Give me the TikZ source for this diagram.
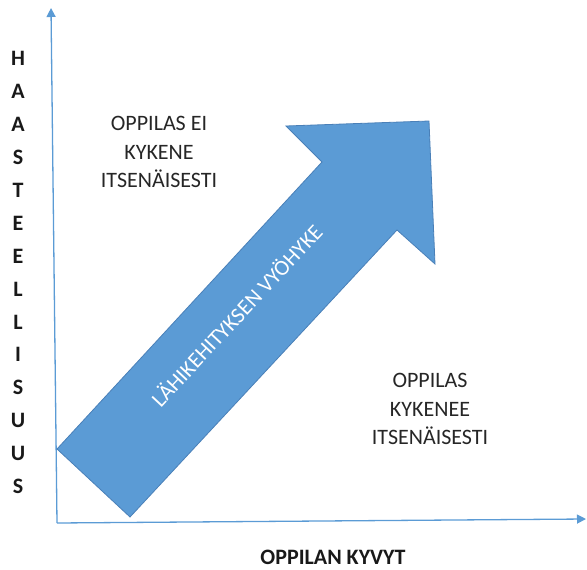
\documentclass[tikz,border=0pt]{standalone}
\usepackage{fontspec}
\setmainfont{Carlito}
\usetikzlibrary{arrows.meta}
\definecolor{cZone}{HTML}{5B9BD5}
\definecolor{cZoneEdge}{HTML}{4A80B8}

\begin{document}
\begin{tikzpicture}[
  x=1pt, y=-1pt,
  font=\fontsize{22}{28.5}\selectfont,
  lbl/.style  = {align=center, text=black!85, inner sep=0pt},
  axl/.style  = {font=\fontsize{22}{28.5}\selectfont\bfseries, text=black!90, inner sep=0pt},
  ax/.style   = {draw=cZone, line width=1.3pt, -{Triangle[width=9pt,length=9pt]}},
  zone/.style = {fill=cZone, draw=cZoneEdge, line width=0.8pt, line join=miter},
]
\useasboundingbox (0,0) rectangle (587,570);
% axes
\coordinate (o)    at (57,523);
\coordinate (ytop) at (51,8);
\coordinate (xend) at (586,519);
\draw[ax] (o) -- (ytop);
\draw[ax] (o) -- (xend);
% the zone arrow, corners going round from the tail
\coordinate (tl) at (57,449);
\coordinate (tb) at (130,517);
\coordinate (nl) at (397,230);
\coordinate (bl) at (435,264);
\coordinate (tip) at (429,121);
\coordinate (bu) at (286,126);
\coordinate (nu) at (322,162);
\filldraw[zone] (tl) -- (tb) -- (nl) -- (bl) -- (tip) -- (bu) -- (nu) -- cycle;
\node[lbl, text=white, rotate=47] (zone) at (236,315) {LÄHIKEHITYKSEN VYÖHYKE};
% labels
\node[lbl] (cannot) at (159,152) {OPPILAS EI\\KYKENE\\ITSENÄISESTI};
\node[lbl] (can)    at (430,409) {OPPILAS\\KYKENEE\\ITSENÄISESTI};
\node[axl] (xlab)   at (333,557) {OPPILAN KYVYT};
\foreach \c [count=\k from 0] in {H,A,A,S,T,E,E,L,L,I,S,U,U,S}
  \node[axl] (v\k) at (18,58.3+\k*32.95) {\c};
\end{tikzpicture}
\end{document}
